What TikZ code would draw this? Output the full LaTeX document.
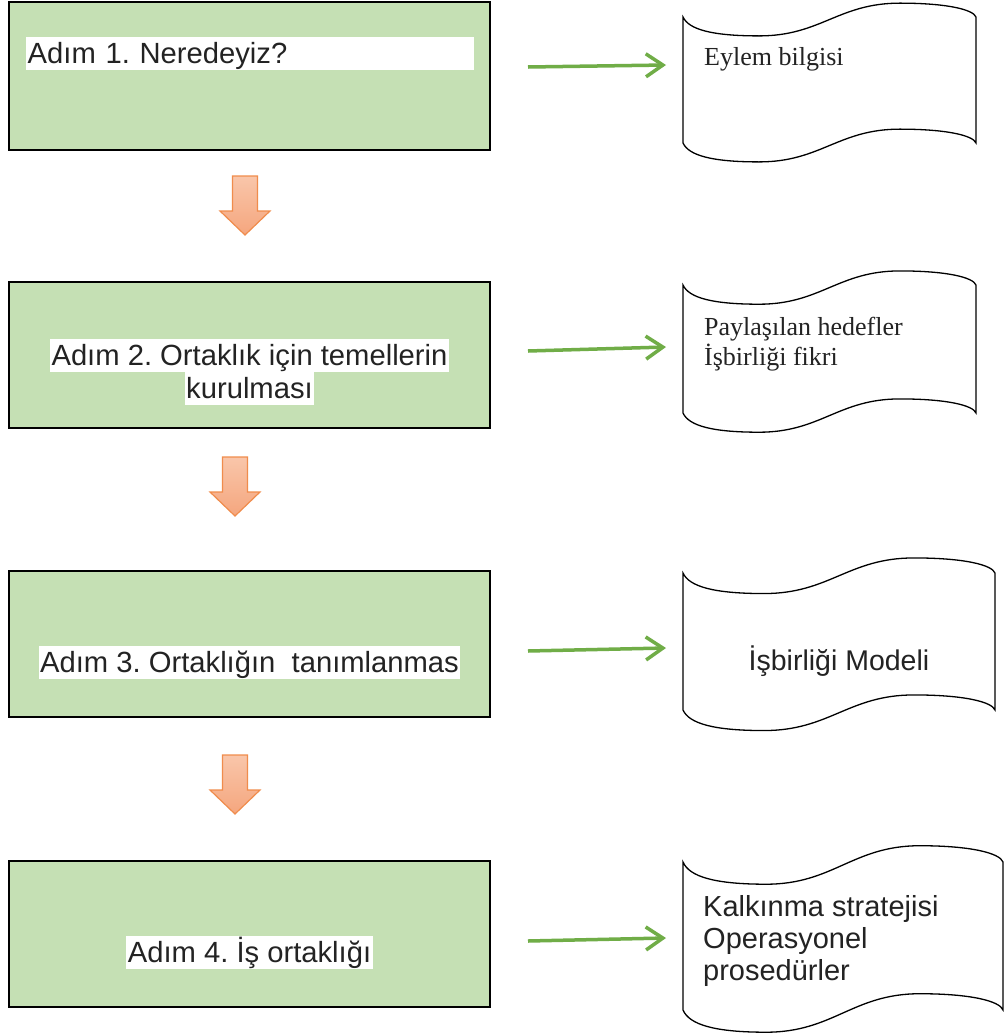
\documentclass[tikz,border=0pt]{standalone}
\usepackage{fontspec}
\setmainfont{Liberation Sans}
\newfontfamily\tapeserif{Liberation Serif}
\usetikzlibrary{arrows.meta}
\frenchspacing

\definecolor{stepgreen}{RGB}{197,224,180}
\definecolor{linkgreen}{RGB}{112,173,71}
\definecolor{arrowtop}{RGB}{249,198,170}
\definecolor{arrowbot}{RGB}{245,166,126}
\definecolor{arrowedge}{RGB}{240,140,76}
\definecolor{inkgray}{RGB}{35,35,35}

\tikzset{
  stepbox/.style={draw=black, line width=1.5pt, fill=stepgreen,
    minimum width=481pt, inner sep=0pt},
  hl/.style={fill=white, text=inkgray, inner xsep=1.5pt, inner ysep=0pt,
    text height=26.5pt, text depth=7pt, font=\fontsize{29.2}{34}\selectfont},
  serifline/.style={inner sep=0pt, anchor=base west, text=inkgray,
    font=\tapeserif\fontsize{26}{30}\selectfont},
  sansline/.style={inner sep=0pt, text=inkgray,
    font=\fontsize{29}{33}\selectfont},
  link/.style={draw=linkgreen, line width=3.5pt,
    -{Straight Barb[length=17pt,width=23pt]}},
  tapeline/.style={draw=black, line width=1.3pt, fill=white},
  blockarrow/.style={draw=arrowedge, line width=1.2pt,
    top color=arrowtop, bottom color=arrowbot},
  % unit "punched tape" outline, scaled to size where it is placed
  pics/tape/.style={code={
    \path[tapeline] (0,0)
      .. controls (0.02,0.10) and (0.10,0.15) .. (0.26,0.15)
      .. controls (0.47,0.15) and (0.53,-0.11) .. (0.74,-0.11)
      .. controls (0.90,-0.11) and (0.99,-0.06) .. (1,0)
      -- (1,1)
      .. controls (0.99,0.94) and (0.90,0.89) .. (0.74,0.89)
      .. controls (0.53,0.89) and (0.47,1.15) .. (0.26,1.15)
      .. controls (0.10,1.15) and (0.02,1.10) .. (0,1)
      -- cycle;
  }},
  pics/downarrow/.style={code={
    \path[blockarrow] (-12.5,0) -- (12.5,0) -- (12.5,35) -- (25,35)
      -- (0,59) -- (-25,35) -- (-12.5,35) -- cycle;
  }}
}

\begin{document}
\begin{tikzpicture}[x=1pt, y=-1pt]
\fill[white] (0,0) rectangle (1005,1034);
\useasboundingbox (0,0) rectangle (1005,1034);

% step boxes
\node[stepbox, minimum height=148pt] (box1) at (249.5,76) {};
\node[stepbox, minimum height=146pt] (box2) at (249.5,355) {};
\node[stepbox, minimum height=146pt] (box3) at (249.5,644) {};
\node[stepbox, minimum height=146pt] (box4) at (249.5,934) {};

% step titles on white highlight
\node[hl, text width=445pt, align=left, anchor=base west] (title1) at (26,63) {Adım 1. Neredeyiz?};
\node[hl, anchor=base] (title2a) at (249.5,365) {Adım 2. Ortaklık için temellerin};
\node[hl, anchor=base] (title2b) at (249.5,398) {kurulması};
\node[hl, anchor=base] (title3) at (249.5,672) {Adım 3. Ortaklığın~ tanımlanmas};
\node[hl, anchor=base] (title4) at (249.5,962) {Adım 4. İş ortaklığı};

% arrows between steps
\pic at (245,176) {downarrow};
\pic at (235,457) {downarrow};
\pic at (235,755) {downarrow};

% output documents
\pic[xscale=293, yscale=126] at (683,17) {tape};
\pic[xscale=293, yscale=128] at (683,285) {tape};
\pic[xscale=312, yscale=137] at (683,573) {tape};
\pic[xscale=320, yscale=148] at (683,862) {tape};

\node[serifline] (out1) at (704,65) {Eylem bilgisi};
\node[serifline] (out2a) at (704,335) {Paylaşılan hedefler};
\node[serifline] (out2b) at (704,365) {İşbirliği fikri};
\node[sansline, font=\fontsize{28.5}{33}\selectfont, anchor=base] (out3) at (839,670) {İşbirliği Modeli};
\node[sansline, anchor=base west] (out4a) at (703,916) {Kalkınma stratejisi};
\node[sansline, anchor=base west] (out4b) at (703,948) {Operasyonel};
\node[sansline, anchor=base west] (out4c) at (703,980) {prosedürler};

% links from steps to documents
\coordinate (l1s) at (528,67);  \coordinate (l1e) at (666,65);
\coordinate (l2s) at (528,351); \coordinate (l2e) at (666,347);
\coordinate (l3s) at (528,651); \coordinate (l3e) at (666,648);
\coordinate (l4s) at (528,941); \coordinate (l4e) at (666,938);
\draw[link] (l1s) -- (l1e);
\draw[link] (l2s) -- (l2e);
\draw[link] (l3s) -- (l3e);
\draw[link] (l4s) -- (l4e);
\end{tikzpicture}
\end{document}
